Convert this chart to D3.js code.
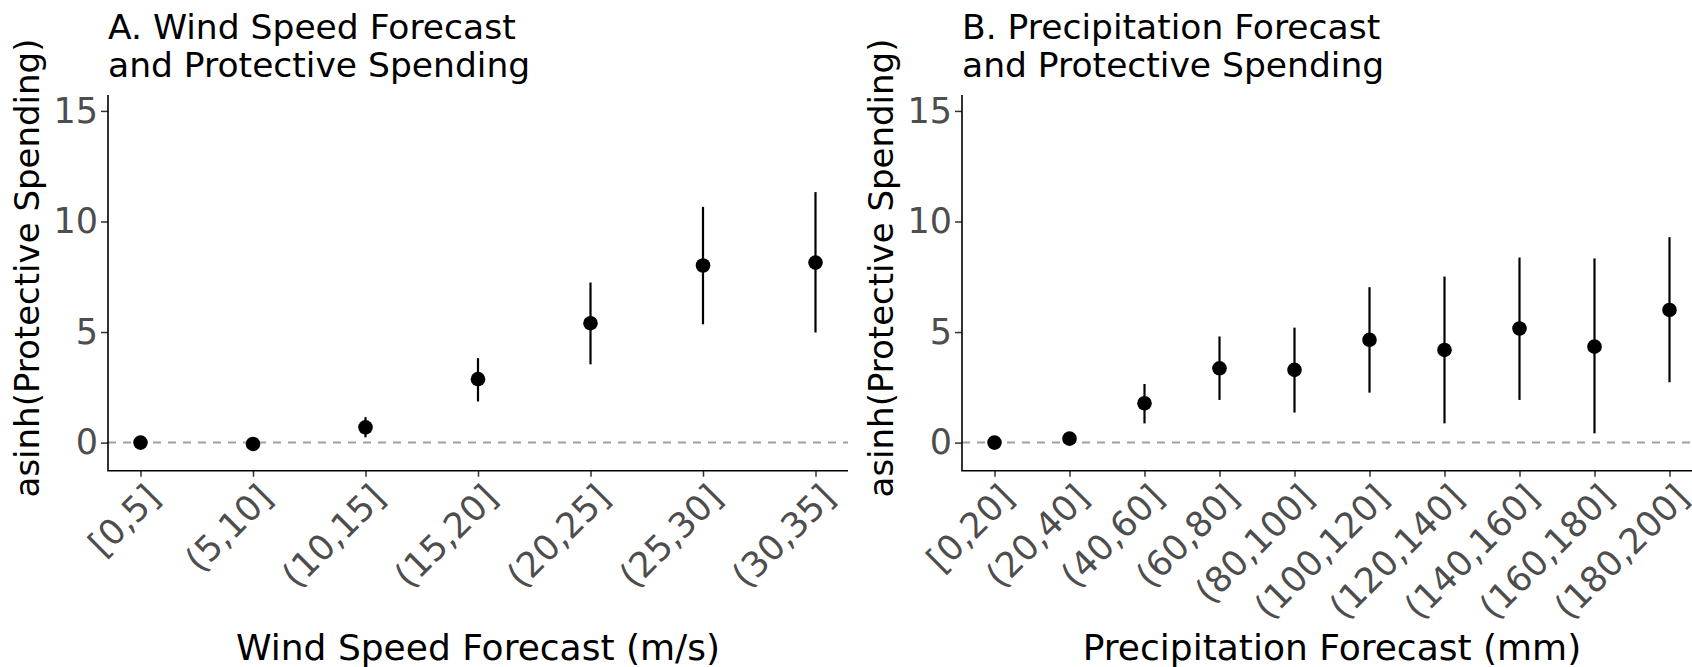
<!DOCTYPE html>
<html>
<head>
<meta charset="utf-8">
<script src="https://cdn.jsdelivr.net/npm/d3@7"></script>
<style>
	body { margin: 0; background: #fff; }
	text { font-family: "DejaVu Sans", sans-serif; }
</style>
</head>
<body>
<div id="chart"></div>
<script>
// panel A: wind speed bins
var windCats = ["[0,5]", "(5,10]", "(10,15]", "(15,20]", "(20,25]", "(25,30]", "(30,35]"]
var windEst = [0, -0.06, 0.69, 2.87, 5.40, 8.01, 8.14]
var windLo = [0, -0.12, 0.24, 1.86, 3.54, 5.35, 4.98]
var windHi = [0, 0.00, 1.15, 3.82, 7.24, 10.66, 11.33]

// panel B: precipitation bins
var precipCats = ["[0,20]", "(20,40]", "(40,60]", "(60,80]", "(80,100]", "(100,120]", "(120,140]", "(140,160]", "(160,180]", "(180,200]"]
var precipEst = [0, 0.18, 1.78, 3.36, 3.29, 4.65, 4.19, 5.16, 4.34, 6.00]
var precipLo = [0, -0.05, 0.87, 1.93, 1.36, 2.26, 0.87, 1.93, 0.42, 2.73]
var precipHi = [0, 0.42, 2.65, 4.80, 5.20, 7.03, 7.51, 8.37, 8.33, 9.29]

var yTicks = [0, 5, 10, 15]
var yLabel = "asinh(Protective Spending)"

;(() => run())()

function run() {
	var panels = [
		{ title: ["A. Wind Speed Forecast", "and Protective Spending"], xLabel: "Wind Speed Forecast (m/s)",
			cats: windCats, est: windEst, lo: windLo, hi: windHi, left: 108 },
		{ title: ["B. Precipitation Forecast", "and Protective Spending"], xLabel: "Precipitation Forecast (mm)",
			cats: precipCats, est: precipEst, lo: precipLo, hi: precipHi, left: 962 }
	]

	var w = 1692
	var h = 667
	var panelW = 740
	var plotTop = 95
	var plotBottom = 470.7
	var pad = 32.5

	var svg = d3.select("#chart").append("svg")
		.attr("width", w)
		.attr("height", h)

	var y = d3.scaleLinear()
		.domain([-1.27, 15.72])
		.range([plotBottom, plotTop])

	panels.forEach(p => {
		var left = p.left
		var right = left + panelW
		var g = svg.append("g")

		var x = d3.scalePoint()
			.domain(p.cats)
			.range([left + pad, right - pad])

		var rows = p.cats.map((c, i) => ({ cat: c, est: p.est[i], lo: p.lo[i], hi: p.hi[i] }))

		// two-line title
		var title = g.append("text")
			.attr("x", left)
			.attr("y", 39)
			.style("font-size", "34.5px")
			.style("fill", "#000")
		title.selectAll("tspan")
			.data(p.title)
			.enter()
			.append("tspan")
			.attr("x", left)
			.attr("dy", (d, i) => i == 0 ? 0 : 38)
			.text(d => d)

		// zero reference line
		g.append("line")
			.attr("x1", left)
			.attr("x2", right)
			.attr("y1", y(0))
			.attr("y2", y(0))
			.style("stroke", "#a0a0a0")
			.style("stroke-width", 2)
			.style("stroke-dasharray", "8,7")

		// y axis
		var yAxis = d3.axisLeft(y).tickValues(yTicks).tickSize(7).tickPadding(3).tickSizeOuter(0)
		var ya = g.append("g")
			.attr("transform", "translate(" + left + ",0)")
			.call(yAxis)
		ya.select(".domain").remove()
		ya.selectAll("line").style("stroke", "#333").style("stroke-width", 1.5)
		ya.selectAll("text")
			.style("font-size", "35px")
			.style("fill", "#4d4d4d")
			.style("font-family", "DejaVu Sans")

		// x axis, labels turned 45 degrees
		var xAxis = d3.axisBottom(x).tickSize(6).tickSizeOuter(0)
		var xa = g.append("g")
			.attr("transform", "translate(0," + plotBottom + ")")
			.call(xAxis)
		xa.select(".domain").remove()
		xa.selectAll("line").style("stroke", "#333").style("stroke-width", 1.5)
		xa.selectAll("text")
			.attr("y", 0)
			.attr("dy", "0.76em")
			.attr("text-anchor", "end")
			.attr("transform", "translate(2,10) rotate(-45)")
			.style("font-size", "35px")
			.style("fill", "#4d4d4d")
			.style("font-family", "DejaVu Sans")

		// axis lines
		g.append("path")
			.attr("d", "M" + left + "," + plotTop + "V" + plotBottom + "H" + right)
			.style("fill", "none")
			.style("stroke", "#000")
			.style("stroke-width", 1.6)

		// error bars
		g.selectAll(".bar")
			.data(rows)
			.enter()
			.append("line")
			.attr("class", "bar")
			.attr("x1", d => x(d.cat))
			.attr("x2", d => x(d.cat))
			.attr("y1", d => y(d.lo))
			.attr("y2", d => y(d.hi))
			.style("stroke", "#000")
			.style("stroke-width", 2.2)

		// points
		g.selectAll(".pt")
			.data(rows)
			.enter()
			.append("circle")
			.attr("class", "pt")
			.attr("cx", d => x(d.cat))
			.attr("cy", d => y(d.est))
			.attr("r", 7.3)
			.style("fill", "#000")

		// axis titles
		g.append("text")
			.attr("transform", "translate(" + (left - 69) + ",268) rotate(-90)")
			.attr("text-anchor", "middle")
			.style("font-size", "34px")
			.text(yLabel)

		g.append("text")
			.attr("x", (left + right) / 2)
			.attr("y", 660)
			.attr("text-anchor", "middle")
			.style("font-size", "36px")
			.text(p.xLabel)
	})
}
</script>
</body>
</html>
